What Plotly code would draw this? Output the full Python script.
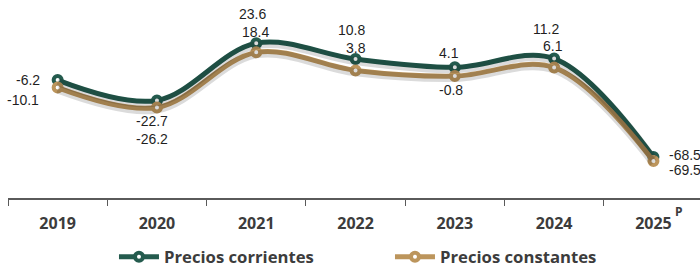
import plotly.graph_objects as go

# ---- data ----
years = ["2019", "2020", "2021", "2022", "2023", "2024", "2025"]
corrientes = [-6.2, -22.7, 23.6, 10.8, 4.1, 11.2, -68.5]
constantes = [-10.1, -26.2, 18.4, 3.8, -0.8, 6.1, -69.5]
corr_labels = ["-6.2", "-22.7", "23.6", "10.8", "4.1", "11.2", "-68.5"]
const_labels = ["-10.1", "-26.2", "18.4", "3.8", "-0.8", "6.1", "-69.5"]
series_names = ["Precios corrientes", "Precios constantes"]

# ---- styles ----
GREEN = "#245B4E"
GOLD = "#BC955C"
TXT = "#1f1f1f"
AX = "#5a5a5a"
BOLDGRAY = "#3c3c3c"

# label placements (xshift, yshift, xanchor) per point
corr_pos = [(-30, 0, "center"), (-5, -21, "center"), (-4, 29, "center"),
            (-4, 29, "center"), (-6, 14, "center"), (-8, 30, "center"),
            (14, 2, "left")]
const_pos = [(-17, -12, "right"), (-5, -32, "center"), (-1, 20, "center"),
             (0, 22, "center"), (-4, -14, "center"), (-1, 22, "center"),
             (14, -9, "left")]

fig = go.Figure()

# soft shadows under the lines
for vals, ax in ((corrientes, "y3"), (constantes, "y4")):
    fig.add_trace(go.Scatter(x=years, y=vals, mode="lines", yaxis=ax,
                             line=dict(color="rgba(0,0,0,0.14)", width=8, shape="spline"),
                             hoverinfo="skip", showlegend=False))

fig.add_trace(go.Scatter(
    x=years, y=corrientes, name=series_names[0], mode="lines+markers",
    line=dict(color=GREEN, width=5, shape="spline"),
    marker=dict(symbol="circle", size=8, color="white", line=dict(color=GREEN, width=4)),
))
fig.add_trace(go.Scatter(
    x=years, y=constantes, name=series_names[1], mode="lines+markers", yaxis="y2",
    line=dict(color=GOLD, width=5, shape="spline"),
    marker=dict(symbol="circle", size=8, color="white", line=dict(color=GOLD, width=4)),
))

lab_font = dict(family="Liberation Sans, Arial", size=14, color=TXT)
annos = []
for i, (v, t, (dx, dy, xa)) in enumerate(zip(corrientes, corr_labels, corr_pos)):
    annos.append(dict(x=i, y=v, xref="x", yref="y", text=t, showarrow=False,
                      xshift=dx, yshift=dy, xanchor=xa, yanchor="middle", font=lab_font))
for i, (v, t, (dx, dy, xa)) in enumerate(zip(constantes, const_labels, const_pos)):
    annos.append(dict(x=i, y=v, xref="x", yref="y2", text=t, showarrow=False,
                      xshift=dx, yshift=dy, xanchor=xa, yanchor="middle", font=lab_font))
# preliminary mark next to last year
annos.append(dict(x=len(years) - 1, y=0, xref="x", yref="paper", text="<b>P</b>",
                  showarrow=False, xshift=26, yshift=-13, xanchor="center", yanchor="middle",
                  font=dict(family="Open Sans", size=12, color=BOLDGRAY)))

fig.update_layout(
    width=700, height=267,
    margin=dict(l=8, r=0, t=0, b=69, autoexpand=False),
    paper_bgcolor="white", plot_bgcolor="white",
    xaxis=dict(type="category", range=[-0.5, 6.469], showgrid=False, zeroline=False,
               showline=True, linecolor=AX, linewidth=1.6,
               ticks="outside", ticklen=6, tickcolor=AX, tickwidth=1.3,
               tickson="boundaries", ticklabelstandoff=10, automargin=False,
               tickfont=dict(family="Open Sans", size=16, color=BOLDGRAY, weight="bold")),
    yaxis=dict(range=[-101.7, 58.6], visible=False, fixedrange=True),
    yaxis2=dict(range=[-99.5, 60.8], overlaying="y", visible=False),
    yaxis3=dict(range=[-100.1, 60.24], overlaying="y", visible=False),
    yaxis4=dict(range=[-97.9, 62.4], overlaying="y", visible=False),
    legend=dict(orientation="h", x=0.552, xanchor="center", y=-0.298, yanchor="middle",
                font=dict(family="Open Sans", size=16.7, color=BOLDGRAY, weight="bold"),
                itemwidth=40, entrywidth=221),
    annotations=annos,
    showlegend=True,
)

fig.write_html("out.html", config={"displayModeBar": False},
               post_script="document.body.style.margin='0';document.body.style.padding='0';")
